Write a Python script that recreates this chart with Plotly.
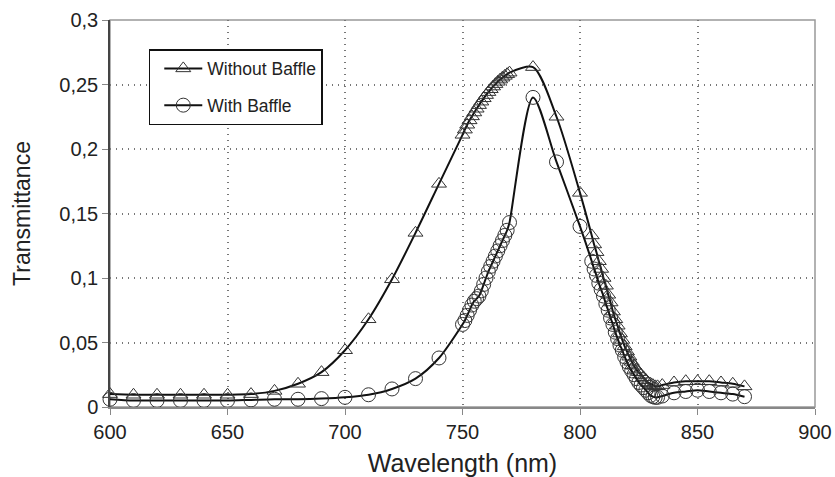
import plotly.graph_objects as go

# ---- data ----
wl_without = [600, 610, 620, 630, 640, 650, 660, 670, 680, 690, 700, 710, 720, 730, 740, 750,
              751, 752, 753, 754, 755, 756, 757, 758, 759, 760, 761, 762, 763, 764, 765, 766, 767, 768, 769, 770,
              780, 790, 800,
              805, 806, 807, 808, 809, 810, 811, 812, 813, 814, 815, 816, 817, 818, 819, 820,
              821, 822, 823, 824, 825, 826, 827, 828, 829, 830, 831, 832, 833,
              835, 840, 845, 850, 855, 860, 865, 870]
t_without = [0.0100, 0.0095, 0.0095, 0.0095, 0.0095, 0.0095, 0.0100, 0.0125, 0.0180, 0.0270, 0.0440, 0.0680, 0.0990, 0.1350, 0.1730, 0.2110,
             0.2150, 0.2188, 0.2222, 0.2253, 0.2283, 0.2312, 0.2340, 0.2367, 0.2393, 0.2418, 0.2441, 0.2463, 0.2484, 0.2503, 0.2521, 0.2538, 0.2553, 0.2567, 0.2580, 0.2592,
             0.2635, 0.2250, 0.1660,
             0.1330, 0.1260, 0.1200, 0.1130, 0.1070, 0.1000, 0.0940, 0.0870, 0.0810, 0.0740, 0.0680, 0.0630, 0.0570, 0.0520, 0.0470, 0.0430,
             0.0390, 0.0350, 0.0320, 0.0290, 0.0270, 0.0250, 0.0230, 0.0210, 0.0190, 0.0180, 0.0170, 0.0160, 0.0160,
             0.0170, 0.0190, 0.0200, 0.0200, 0.0200, 0.0190, 0.0180, 0.0160]

wl_with = [600, 610, 620, 630, 640, 650, 660, 670, 680, 690, 700, 710, 720, 730, 740, 750,
           751, 752, 753, 754, 755, 756, 757, 758, 759, 760, 761, 762, 763, 764, 765, 766, 767, 768, 769, 770,
           780, 790, 800,
           805, 806, 807, 808, 809, 810, 811, 812, 813, 814, 815, 816, 817, 818, 819, 820,
           821, 822, 823, 824, 825, 826, 827, 828, 829, 830, 831, 832, 833,
           835, 840, 845, 850, 855, 860, 865, 870]
t_with = [0.0060, 0.0050, 0.0050, 0.0050, 0.0050, 0.0050, 0.0055, 0.0060, 0.0060, 0.0065, 0.0075, 0.0095, 0.0140, 0.0220, 0.0380, 0.0640,
          0.0670, 0.0710, 0.0750, 0.0790, 0.0820, 0.0840, 0.0860, 0.0900, 0.0950, 0.1000, 0.1050, 0.1090, 0.1130, 0.1170, 0.1210, 0.1250, 0.1290, 0.1330, 0.1370, 0.1430,
          0.2400, 0.1900, 0.1400,
          0.1130, 0.1070, 0.1020, 0.0960, 0.0910, 0.0860, 0.0800, 0.0750, 0.0690, 0.0640, 0.0580, 0.0530, 0.0480, 0.0440, 0.0390, 0.0350,
          0.0310, 0.0280, 0.0250, 0.0220, 0.0190, 0.0170, 0.0150, 0.0130, 0.0110, 0.0090, 0.0080, 0.0075, 0.0075,
          0.0085, 0.0110, 0.0120, 0.0130, 0.0120, 0.0110, 0.0100, 0.0080]

x_ticks = [600, 650, 700, 750, 800, 850, 900]
y_ticks = [0, 0.05, 0.1, 0.15, 0.2, 0.25, 0.3]
series_names = ["Without Baffle", "With Baffle"]

FONT = "Liberation Sans, Arial, sans-serif"

fig = go.Figure()
fig.add_trace(go.Scatter(
    x=wl_without, y=t_without, name=series_names[0], mode="lines+markers",
    line=dict(color="#111", width=2, shape="spline", smoothing=0.8),
    marker=dict(symbol="triangle-up-open", size=13, color="#333", line=dict(width=1)),
    cliponaxis=False, legendgroup="a"))
fig.add_trace(go.Scatter(
    x=wl_with, y=t_with, name=series_names[1], mode="lines+markers",
    line=dict(color="#111", width=2, shape="spline", smoothing=0.8),
    marker=dict(symbol="circle-open", size=14, color="#333", line=dict(width=1)),
    cliponaxis=False, legendgroup="b"))

fig.update_layout(
    width=835, height=477,
    margin=dict(l=110, r=20, t=20, b=70, autoexpand=False),
    paper_bgcolor="white", plot_bgcolor="white",
    separators=",.",
    font=dict(family=FONT, color="#222", size=20),
    showlegend=True,
    legend=dict(x=0.055, y=0.925, xanchor="left", yanchor="top",
                bgcolor="white", bordercolor="#111", borderwidth=1.5,
                font=dict(size=17.5, family=FONT, color="#222"),
                traceorder="grouped", tracegroupgap=11,
                itemwidth=38, indentation=9),
    shapes=[dict(type="rect", xref="paper", yref="paper", x0=0, y0=0, x1=1, y1=1,
                 line=dict(color="#999", width=1.5), layer="below")],
)
fig.update_xaxes(range=[600, 900], tickvals=x_ticks, showgrid=True, gridcolor="#777",
                 griddash="1px,5px", gridwidth=1.5, ticks="outside", ticklen=6, tickcolor="#888",
                 showline=True, linecolor="#888", linewidth=1.5, zeroline=False, automargin=False,
                 title=dict(text="Wavelength (nm)", font=dict(size=25), standoff=14),
                 tickfont=dict(size=20))
fig.update_yaxes(range=[0, 0.3], tickvals=y_ticks, showgrid=True, gridcolor="#777",
                 griddash="1px,5px", gridwidth=1.5, ticks="outside", ticklen=6, tickcolor="#888",
                 showline=True, linecolor="#444", linewidth=1.5, zeroline=False, automargin=False,
                 title=dict(text="Transmittance", font=dict(size=23), standoff=22),
                 tickfont=dict(size=20))

fig.write_html("out.html", config={"displayModeBar": False},
               post_script="document.body.style.margin='0';document.body.style.overflow='hidden';")
